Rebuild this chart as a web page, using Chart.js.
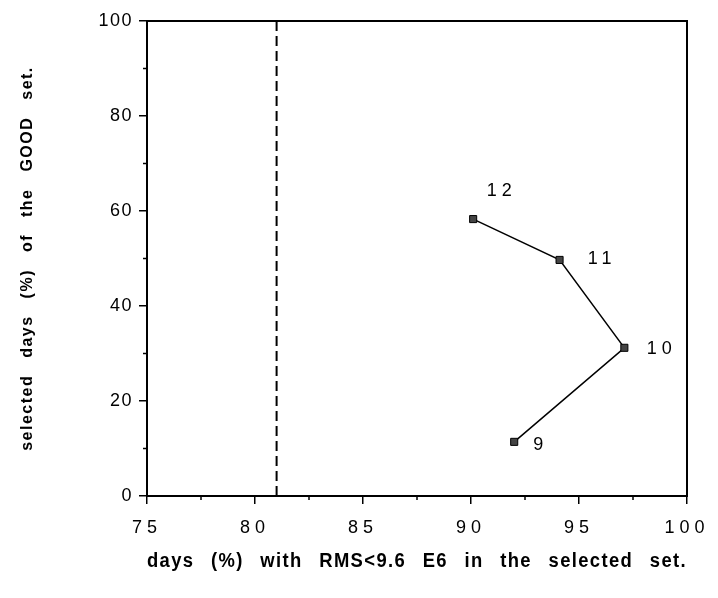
<!DOCTYPE html>
<html>
<head>
<meta charset="utf-8">
<script src="https://cdn.jsdelivr.net/npm/chart.js@4"></script>
<style>
  html, body { margin: 0; padding: 0; background: #fff; }
  #wrap { width: 718px; height: 598px; }
</style>
</head>
<body>
<div id="wrap"><canvas id="c" width="718" height="598"></canvas></div>
<script>
// data
const pointLabels = ['9', '10', '11', '12'];
const xValues = [92.0, 97.1, 94.1, 90.1];
const yValues = [11.4, 31.2, 49.7, 58.3];
const cutoffX = 81;
const minorXTicks = [77.5, 82.5, 87.5, 92.5, 97.5];
const minorYTicks = [10, 30, 50, 70, 90];

// where each number sits relative to its point
const labelOffsets = [[24, 3], [35, 1], [40, -1], [26, -28]];

const FONT = '"Liberation Sans", Arial, Helvetica, sans-serif';

// spacing tricks: titles spread out, x tick numbers widely spaced
const spacingPlugin = {
    id: 'spacing',
    beforeDraw(chart) {
        chart.ctx.letterSpacing = '1.5px';
        chart.ctx.wordSpacing = '11px';
    },
    beforeDatasetsDraw(chart) {
        chart.ctx.letterSpacing = '0px';
        chart.ctx.wordSpacing = '0px';
    },
    afterDatasetsDraw(chart) {
        chart.ctx.letterSpacing = '5px';
    },
    afterDraw(chart) {
        const ctx = chart.ctx;
        const area = chart.chartArea;
        const xs = chart.scales.x, ys = chart.scales.y;
        ctx.save();
        ctx.letterSpacing = '0px';
        // frame
        ctx.strokeStyle = '#000';
        ctx.lineWidth = 2;
        ctx.strokeRect(area.left, area.top, area.right - area.left, area.bottom - area.top);
        // minor ticks
        ctx.lineWidth = 1.5;
        ctx.beginPath();
        minorXTicks.forEach(v => {
            const px = xs.getPixelForValue(v);
            ctx.moveTo(px, area.bottom);
            ctx.lineTo(px, area.bottom + 4);
        });
        minorYTicks.forEach(v => {
            const py = ys.getPixelForValue(v);
            ctx.moveTo(area.left, py);
            ctx.lineTo(area.left - 4, py);
        });
        ctx.stroke();
        // point numbers
        const meta = chart.getDatasetMeta(0);
        ctx.font = '18px ' + FONT;
        ctx.fillStyle = '#000';
        ctx.letterSpacing = '5px';
        ctx.textAlign = 'center';
        ctx.textBaseline = 'middle';
        meta.data.forEach((pt, i) => {
            const off = labelOffsets[i];
            ctx.fillText(pointLabels[i], pt.x + off[0] + 2.5, pt.y + off[1]);
        });
        ctx.restore();
        ctx.letterSpacing = '0px';
        ctx.wordSpacing = '0px';
    }
};

new Chart(document.getElementById('c'), {
    type: 'scatter',
    data: {
        datasets: [
            {
                data: xValues.map((x, i) => ({ x: x, y: yValues[i] })),
                showLine: true,
                borderColor: '#000',
                borderWidth: 1.5,
                pointStyle: 'rect',
                pointRadius: 5,
                pointBackgroundColor: '#444',
                pointBorderColor: '#000',
                pointBorderWidth: 1
            },
            {
                data: [{ x: cutoffX, y: 0 }, { x: cutoffX, y: 100 }],
                showLine: true,
                borderColor: '#000',
                borderWidth: 2,
                borderDash: [10, 5],
                pointRadius: 0
            }
        ]
    },
    options: {
        responsive: false,
        animation: false,
        layout: { padding: { top: 21, right: 31, left: 0, bottom: 0 } },
        plugins: { legend: { display: false }, tooltip: { enabled: false } },
        scales: {
            x: {
                type: 'linear',
                min: 75,
                max: 100,
                afterFit(scale) { scale.height = 102; },
                ticks: { stepSize: 5, color: '#000', padding: 13, z: 1, font: { family: FONT, size: 18 } },
                grid: { drawOnChartArea: false, tickLength: 8, color: '#000', lineWidth: 1.5 },
                border: { color: '#000', width: 2 },
                title: {
                    display: true,
                    text: 'days (%) with RMS<9.6 E6 in the selected set.',
                    color: '#000',
                    font: { family: FONT, size: 20, weight: 'bold' },
                    padding: { top: 0, bottom: 25 }
                }
            },
            y: {
                min: 0,
                max: 100,
                afterFit(scale) { scale.width = 147; },
                ticks: { stepSize: 20, color: '#000', padding: 6, font: { family: FONT, size: 18 } },
                grid: { drawOnChartArea: false, tickLength: 8, color: '#000', lineWidth: 1.5 },
                border: { color: '#000', width: 2 },
                title: {
                    display: true,
                    text: 'selected days (%) of the GOOD set.',
                    color: '#000',
                    font: { family: FONT, size: 16, weight: 'bold' },
                    padding: { top: 18, bottom: 0 }
                }
            }
        }
    },
    plugins: [spacingPlugin]
});
</script>
</body>
</html>
